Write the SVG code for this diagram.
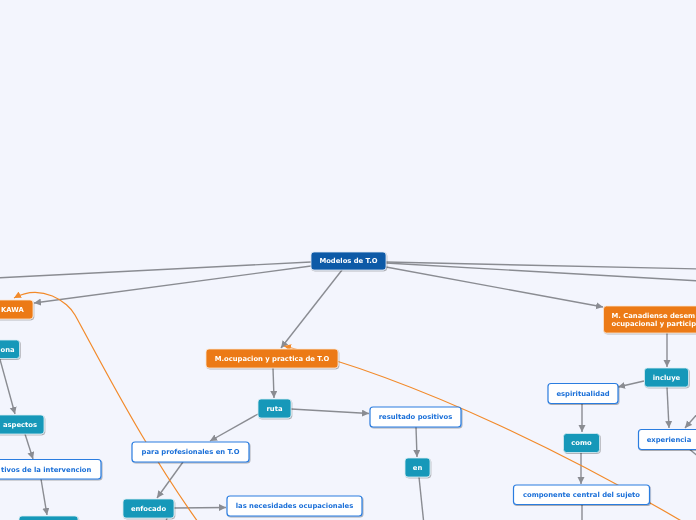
<svg xmlns="http://www.w3.org/2000/svg" width="696" height="520" viewBox="0 0 696 520">
<defs>
<marker id="ga" markerUnits="userSpaceOnUse" markerWidth="8" markerHeight="8" refX="7" refY="3.5" orient="auto">
<path d="M0,0 L7,3.5 L0,7 z" fill="#8a8c92"/>
</marker>
<marker id="oa" markerUnits="userSpaceOnUse" markerWidth="8" markerHeight="8" refX="7" refY="3.5" orient="auto">
<path d="M0,0 L7,3.5 L0,7 z" fill="#f28a2a"/>
</marker>
<filter id="sh" x="-10%" y="-20%" width="120%" height="160%">
<feDropShadow dx="0.8" dy="1" stdDeviation="0.6" flood-color="#000" flood-opacity="0.3"/>
</filter>
</defs>
<style>
.bg{fill:#f3f5fd}
.c{stroke:#8a8c92;stroke-width:1.4;fill:none}
.o{stroke:#f28a2a;stroke-width:1.2;fill:none}
.root{fill:#0e5aa7;stroke:#dfe8f5;stroke-width:0.8}
.or{fill:#ec7a12;stroke:#fbe6d3;stroke-width:0.8}
.tl{fill:#1598b9;stroke:#d8eef4;stroke-width:0.8}
.wh{fill:#ffffff;stroke:#2b7de0;stroke-width:1.2}
text{font-family:"DejaVu Sans","Verdana",sans-serif;font-weight:bold;font-size:6.8px}
.tw{fill:#ffffff}
.tb{fill:#1a6fd8}
</style>
<rect class="bg" x="0" y="0" width="696" height="520"/>
<g id="connectors">
<path class="c" d="M311 262 L-5 278"/>
<path class="c" d="M311 266 L34 303" marker-end="url(#ga)"/>
<path class="c" d="M342 270 L281 348" marker-end="url(#ga)"/>
<path class="c" d="M386 262 L700 269"/>
<path class="c" d="M386 263 L700 281"/>
<path class="c" d="M386 267 L603 307" marker-end="url(#ga)"/>
<path class="c" d="M273 368 L274 398" marker-end="url(#ga)"/>
<path class="c" d="M258 414 L210 441" marker-end="url(#ga)"/>
<path class="c" d="M291 409 L369 413.5" marker-end="url(#ga)"/>
<path class="c" d="M416 427 L417 457" marker-end="url(#ga)"/>
<path class="c" d="M419 477 L424 525"/>
<path class="c" d="M183 462 L157 498" marker-end="url(#ga)"/>
<path class="c" d="M174 508 L226 507.5" marker-end="url(#ga)"/>
<path class="c" d="M167 518 L165 525"/>
<path class="c" d="M-2 352 L15 414" marker-end="url(#ga)"/>
<path class="c" d="M25 434 L33 459" marker-end="url(#ga)"/>
<path class="c" d="M41 479 L47 515" marker-end="url(#ga)"/>
<path class="c" d="M667 333 L667 367" marker-end="url(#ga)"/>
<path class="c" d="M644 381 L618 387" marker-end="url(#ga)"/>
<path class="c" d="M582 404 L582 432" marker-end="url(#ga)"/>
<path class="c" d="M667 387 L669 428" marker-end="url(#ga)"/>
<path class="c" d="M705 405 L685 428" marker-end="url(#ga)"/>
<path class="c" d="M688 448 L700 458"/>
<path class="c" d="M581 452 L581 484" marker-end="url(#ga)"/>
<path class="c" d="M582 504 L582 525"/>
<path class="o" d="M215 545 C150 460 100 360 75 315 C68 302 42 283 14 298" marker-end="url(#oa)"/>
<path class="o" d="M700 532 C580 460 420 380 284 346" marker-end="url(#oa)"/>
</g>
<g id="n-modelos" filter="url(#sh)">
<rect class="root" x="311" y="252" width="75" height="18" rx="3"/>
<text class="tw" x="348.5" y="263.4" text-anchor="middle">Modelos de T.O</text>
</g>
<g id="n-kawa" filter="url(#sh)">
<rect class="or" x="-30" y="300" width="63" height="19" rx="3"/>
<text class="tw" x="1" y="311.9">KAWA</text>
</g>
<g id="n-persona" filter="url(#sh)">
<rect class="tl" x="-30" y="340" width="49.5" height="18.5" rx="3"/>
<text class="tw" x="0.5" y="351.7">ona</text>
</g>
<g id="n-aspectos" filter="url(#sh)">
<rect class="tl" x="-4" y="415" width="48" height="19" rx="3"/>
<text class="tw" x="20" y="426.9" text-anchor="middle">aspectos</text>
</g>
<g id="n-objetivos" filter="url(#sh)">
<rect class="wh" x="-30" y="459.5" width="131" height="19.5" rx="3"/>
<text class="tb" x="1" y="471.6">tivos de la intervencion</text>
</g>
<g id="n-bottomleft" filter="url(#sh)">
<rect class="tl" x="19" y="516" width="59" height="19" rx="3"/>
</g>
<g id="n-mocupacion" filter="url(#sh)">
<rect class="or" x="206" y="349" width="132" height="19" rx="3"/>
<text class="tw" x="272" y="360.9" text-anchor="middle">M.ocupacion y practica de T.O</text>
</g>
<g id="n-ruta" filter="url(#sh)">
<rect class="tl" x="258" y="399" width="33" height="19" rx="3"/>
<text class="tw" x="274.5" y="410.9" text-anchor="middle">ruta</text>
</g>
<g id="n-para" filter="url(#sh)">
<rect class="wh" x="132" y="442" width="117" height="20" rx="3"/>
<text class="tb" x="190.5" y="454.4" text-anchor="middle">para profesionales en T.O</text>
</g>
<g id="n-resultado" filter="url(#sh)">
<rect class="wh" x="370" y="407" width="91" height="20" rx="3"/>
<text class="tb" x="415.5" y="419.4" text-anchor="middle">resultado positivos</text>
</g>
<g id="n-en" filter="url(#sh)">
<rect class="tl" x="405" y="458" width="25" height="19" rx="3"/>
<text class="tw" x="417.5" y="469.9" text-anchor="middle">en</text>
</g>
<g id="n-enfocado" filter="url(#sh)">
<rect class="tl" x="123" y="499" width="51" height="19" rx="3"/>
<text class="tw" x="148.5" y="510.9" text-anchor="middle">enfocado</text>
</g>
<g id="n-necesidades" filter="url(#sh)">
<rect class="wh" x="227" y="496" width="135" height="20" rx="3"/>
<text class="tb" x="294.5" y="508.4" text-anchor="middle">las necesidades ocupacionales</text>
</g>
<g id="n-canadiense" filter="url(#sh)">
<rect class="or" x="603.5" y="306" width="120" height="27" rx="3"/>
<text class="tw" x="611.5" y="318">M. Canadiense desem</text>
<text class="tw" x="611.5" y="326">ocupacional y particip</text>
</g>
<g id="n-incluye" filter="url(#sh)">
<rect class="tl" x="644.5" y="368" width="44" height="19" rx="3"/>
<text class="tw" x="666.5" y="379.9" text-anchor="middle">incluye</text>
</g>
<g id="n-espiritualidad" filter="url(#sh)">
<rect class="wh" x="548" y="383.5" width="70" height="20" rx="3"/>
<text class="tb" x="583" y="395.9" text-anchor="middle">espiritualidad</text>
</g>
<g id="n-como" filter="url(#sh)">
<rect class="tl" x="563.5" y="433.5" width="36" height="19" rx="3"/>
<text class="tw" x="581.5" y="445.4" text-anchor="middle">como</text>
</g>
<g id="n-experiencia" filter="url(#sh)">
<rect class="wh" x="638.5" y="429.5" width="62" height="20" rx="3"/>
<text class="tb" x="669" y="441.9" text-anchor="middle">experiencia</text>
</g>
<g id="n-componente" filter="url(#sh)">
<rect class="wh" x="513.5" y="485" width="136" height="19.5" rx="3"/>
<text class="tb" x="581.5" y="497.1" text-anchor="middle">componente central del sujeto</text>
</g>
</svg>
